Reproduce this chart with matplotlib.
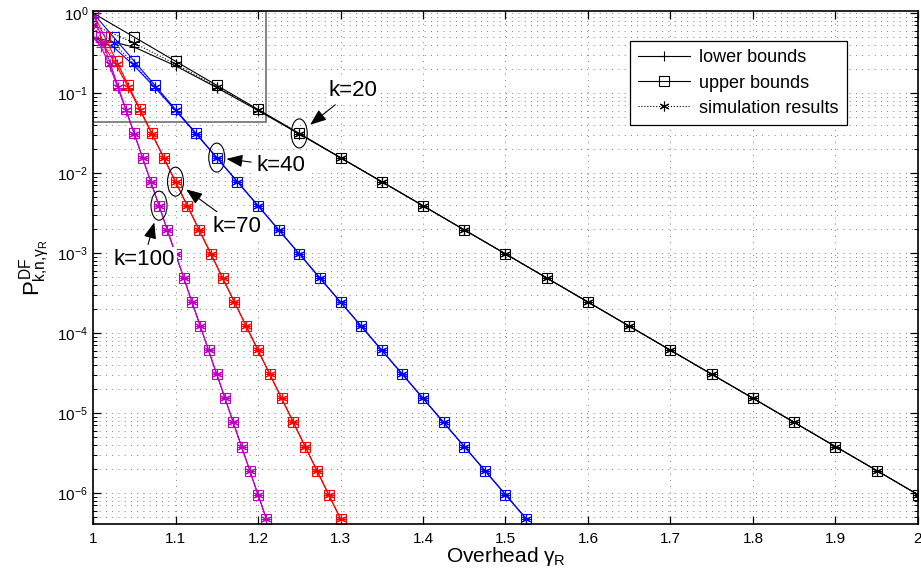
import matplotlib
matplotlib.use("Agg")
import matplotlib.pyplot as plt
from matplotlib.patches import Ellipse, Rectangle
from matplotlib.transforms import ScaledTranslation
from matplotlib.ticker import FixedLocator, FuncFormatter, LogLocator

# overhead values for each k (steps of 1/k)
x_k20 = [1.00, 1.05, 1.10, 1.15, 1.20, 1.25, 1.30, 1.35, 1.40, 1.45, 1.50,
         1.55, 1.60, 1.65, 1.70, 1.75, 1.80, 1.85, 1.90, 1.95, 2.00]
x_k40 = [1.000, 1.025, 1.050, 1.075, 1.100, 1.125, 1.150, 1.175, 1.200, 1.225, 1.250,
         1.275, 1.300, 1.325, 1.350, 1.375, 1.400, 1.425, 1.450, 1.475, 1.500, 1.525]
x_k70 = [1.0000, 1.0143, 1.0286, 1.0429, 1.0571, 1.0714, 1.0857, 1.1000, 1.1143, 1.1286, 1.1429,
         1.1571, 1.1714, 1.1857, 1.2000, 1.2143, 1.2286, 1.2429, 1.2571, 1.2714, 1.2857, 1.3000]
x_k100 = [1.00, 1.01, 1.02, 1.03, 1.04, 1.05, 1.06, 1.07, 1.08, 1.09, 1.10,
          1.11, 1.12, 1.13, 1.14, 1.15, 1.16, 1.17, 1.18, 1.19, 1.20, 1.21]

# failure probability, indexed by extra symbols n-k
p_upper = [1.0, 0.5, 0.25, 0.125, 6.25e-2, 3.13e-2, 1.56e-2, 7.81e-3, 3.91e-3, 1.95e-3, 9.77e-4,
           4.88e-4, 2.44e-4, 1.22e-4, 6.10e-5, 3.05e-5, 1.53e-5, 7.63e-6, 3.81e-6, 1.91e-6,
           9.54e-7, 4.77e-7]
p_lower = [0.5, 0.375, 0.219, 0.117, 6.05e-2, 3.08e-2, 1.55e-2, 7.78e-3, 3.90e-3, 1.95e-3, 9.76e-4,
           4.88e-4, 2.44e-4, 1.22e-4, 6.10e-5, 3.05e-5, 1.53e-5, 7.63e-6, 3.81e-6, 1.91e-6,
           9.54e-7, 4.77e-7]
p_sim = [0.711, 0.422, 0.230, 0.120, 6.15e-2, 3.11e-2, 1.56e-2, 7.80e-3, 3.90e-3, 1.95e-3, 9.76e-4,
         4.88e-4, 2.44e-4, 1.22e-4, 6.10e-5, 3.05e-5, 1.53e-5, 7.63e-6, 3.81e-6, 1.91e-6,
         9.54e-7, 4.77e-7]

curves = [("k=20", x_k20, "black"), ("k=40", x_k40, "blue"),
          ("k=70", x_k70, "red"), ("k=100", x_k100, "#BF00BF")]

# highlighted point (index n-k) for each k
marked = {"k=20": 5, "k=40": 6, "k=70": 7, "k=100": 8}

zoom_box = (1.0, 1.21, 0.0434)
xticks = [1, 1.1, 1.2, 1.3, 1.4, 1.5, 1.6, 1.7, 1.8, 1.9, 2]

plt.rcParams.update({
    "font.family": "Liberation Sans",
    "mathtext.fontset": "custom",
    "mathtext.rm": "Liberation Sans",
    "mathtext.it": "Liberation Sans",
    "mathtext.bf": "Liberation Sans:bold",
})

fig = plt.figure(figsize=(9.21, 5.76), dpi=100)
ax = fig.add_axes([0.101, 0.0903, 0.8957, 0.8911])

star = (6, 2, 0)
for name, xs, color in curves:
    n = len(xs)
    ax.plot(xs, p_lower[:n], color=color, lw=0.8, marker="+", ms=7, mew=0.8,
            label="lower bounds")
    ax.plot(xs, p_upper[:n], color=color, lw=0.8, marker="s", ms=6.8, mew=0.8,
            mfc="none", label="upper bounds")
    ax.plot(xs, p_sim[:n], color=color, lw=0.8, ls=":", marker=star, ms=7, mew=0.8,
            label="simulation results")

ax.set_yscale("log")
ax.set_xlim(1, 2)
ax.set_ylim(4.1e-7, 1.07)

ax.xaxis.set_major_locator(FixedLocator(xticks))
ax.xaxis.set_major_formatter(FuncFormatter(lambda v, p: f"{v:g}"))
ax.yaxis.set_major_locator(LogLocator(base=10, numticks=12))
ax.yaxis.set_minor_locator(LogLocator(base=10, subs=range(2, 10), numticks=12))
ax.tick_params(which="both", direction="in", top=True, right=True, labelsize=11)
ax.tick_params(which="major", length=6, width=0.9)
ax.tick_params(which="minor", length=3, width=0.7)
ax.tick_params(axis="x", pad=6)

grid_style = dict(color="#555555", lw=0.6, ls=(0, (1, 6.5)))
ax.grid(True, which="major", axis="both", **grid_style)
ax.grid(True, which="minor", axis="y", **grid_style)
for s in ax.spines.values():
    s.set_linewidth(1.2)

x0, x1, ybot = zoom_box
ax.add_patch(Rectangle((x0, ybot), x1 - x0, 1.07 - ybot, fill=False,
                       ec="#7a7a7a", lw=1.3, zorder=1))

ax.set_xlabel(r"Overhead $\gamma_R$", fontsize=15, labelpad=-1)
ax.set_ylabel(r"$P^{DF}_{k{,}n{,}\gamma_R}$", fontsize=16, labelpad=4)

# text offset (points) and arrow shrink at the ellipse for each label
label_pos = {
    "k=20": ((39, 31), 10),
    "k=40": ((46, -6), 7),
    "k=70": ((44, -32), 9.5),
    "k=100": ((-11, -39), 12.5),
}
for name, xs, color in curves:
    i = marked[name]
    px, py = xs[i], p_upper[i]
    ax.add_patch(Ellipse((0, 0), 0.16, 0.29, fill=False, ec="black", lw=0.8,
                         transform=fig.dpi_scale_trans + ScaledTranslation(px, py, ax.transData),
                         zorder=5))
    text_off, shrink = label_pos[name]
    ax.annotate(name, xy=(px, py), xytext=text_off, textcoords="offset points",
                ha="center", va="center", fontsize=16, zorder=6,
                bbox=dict(boxstyle="square,pad=0.1", fc="white", ec="none"),
                arrowprops=dict(arrowstyle="-|>,head_length=0.9,head_width=0.35",
                                mutation_scale=11, color="black", lw=0.8,
                                shrinkA=2, shrinkB=shrink))

handles, labels = ax.get_legend_handles_labels()
leg = ax.legend(handles[:3], labels[:3], loc="upper right", bbox_to_anchor=(0.925, 0.958),
                fontsize=13, frameon=True, fancybox=False, edgecolor="black",
                framealpha=1, handlelength=2.9, numpoints=1, borderpad=0.45,
                labelspacing=0.45, handletextpad=0.5)
leg.get_frame().set_linewidth(0.9)
leg.set_zorder(10)

fig.savefig("out.png", dpi=100, facecolor="white")
